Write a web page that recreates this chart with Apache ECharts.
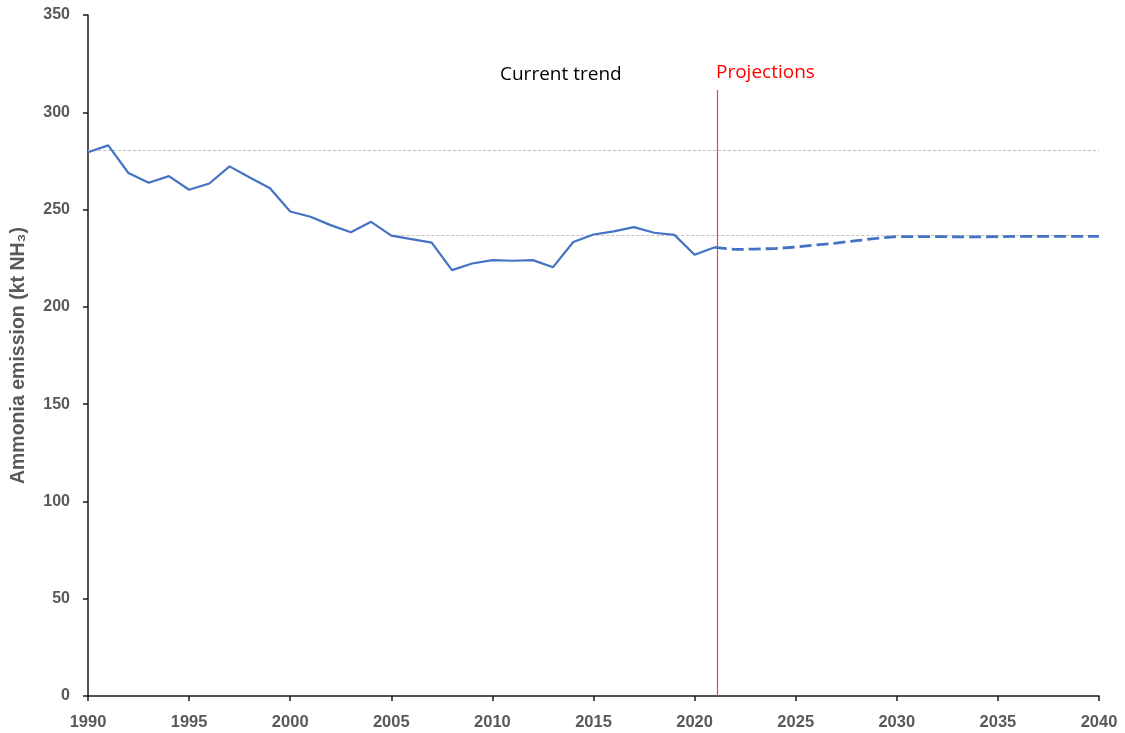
<!DOCTYPE html>
<html><head><meta charset="utf-8">
<script src="https://cdn.jsdelivr.net/npm/echarts@6/dist/echarts.min.js"></script>
<style>html,body{margin:0;padding:0;background:#fff}#c{width:1125px;height:733px}</style>
</head><body><div id="c"></div>
<script>
const histYears = [1990,1991,1992,1993,1994,1995,1996,1997,1998,1999,2000,2001,2002,2003,2004,2005,2006,2007,2008,2009,2010,2011,2012,2013,2014,2015,2016,2017,2018,2019,2020,2021];
const histValues = [279.5,283,268.8,263.8,267.2,260.2,263.4,272.2,266.5,261,249,246.3,242,238.3,243.7,236.6,234.8,233,218.9,222.3,224,223.7,224,220.4,233.3,237.2,238.8,241,238.1,237,226.8,230.6];
const projYears = [2021,2022,2023,2024,2025,2026,2027,2028,2029,2030,2031,2032,2033,2034,2035,2036,2037,2038,2039,2040];
const projValues = [230.6,229.5,229.7,230,230.7,231.8,232.8,234,235.2,236.1,236.1,236.1,236,236,236.1,236.2,236.2,236.2,236.2,236.2];
const xTicks = [1990,1995,2000,2005,2010,2015,2020,2025,2030,2035,2040];
const refUpper = 280.3, refLower = 237, refLowerStart = 2005;
const projectionStart = 2021.12, projectionTop = 311.4;

const labelStyle = {color:'#595959', fontWeight:'bold', fontSize:16, fontFamily:'Liberation Sans'};
const chart = echarts.init(document.getElementById('c'));
chart.setOption({
  animation:false,
  grid:{left:88,right:26,top:15,bottom:37},
  xAxis:{type:'value',min:1990,max:2040,interval:5,
    axisLine:{lineStyle:{color:'#1a1a1a',width:1.5}},
    axisTick:{show:true,length:5,lineStyle:{color:'#1a1a1a',width:1.5}},
    axisLabel:Object.assign({},labelStyle,{fontSize:16.5,margin:18,formatter:v=>xTicks.includes(v)?String(v):''}),
    splitLine:{show:false}},
  yAxis:{type:'value',min:0,max:350,interval:50,
    name:'Ammonia emission (kt NH₃)',nameLocation:'middle',nameGap:59,
    nameTextStyle:{color:'#595959',fontWeight:'bold',fontSize:19.5,fontFamily:'Liberation Sans'},
    axisLine:{show:true,lineStyle:{color:'#1a1a1a',width:1.5}},
    axisTick:{show:true,length:5,lineStyle:{color:'#1a1a1a',width:1.5}},
    axisLabel:Object.assign({margin:18},labelStyle),
    splitLine:{show:false}},
  series:[
    {type:'line',data:histYears.map((y,i)=>[y,histValues[i]]),showSymbol:false,symbol:'none',
     lineStyle:{color:'#4472C4',width:2.2},itemStyle:{color:'#4472C4'},z:5,
     markLine:{silent:true,symbol:'none',label:{show:false},
       data:[
         [{coord:[1990,refUpper],lineStyle:{color:'#c0c0c0',type:[3,2],width:1}},{coord:[2040,refUpper]}],
         [{coord:[refLowerStart,refLower],lineStyle:{color:'#c0c0c0',type:[3,2],width:1}},{coord:[2040,refLower]}]
       ],
       lineStyle:{color:'#c0c0c0',type:[3,2],width:1}}},
    {type:'line',data:projYears.map((y,i)=>[y,projValues[i]]),showSymbol:false,symbol:'none',
     lineStyle:{color:'#4472C4',width:2.8,type:[12,5]},itemStyle:{color:'#4472C4'},z:5,
     markLine:{silent:true,symbol:'none',label:{show:false},
       data:[[{coord:[projectionStart,0],lineStyle:{color:'#ff4040',type:'solid',width:1.2,opacity:1}},{coord:[projectionStart,projectionTop]}]],
       lineStyle:{color:'#ff4040',type:'solid',width:1.2,opacity:1}}}
  ],
  graphic:[
    {type:'text',left:500,top:65,style:{text:'Current trend',fill:'#000',font:'19px "Open Sans"'}},
    {type:'text',left:716,top:63,style:{text:'Projections',fill:'#ff0000',font:'19px "Open Sans"'}}
  ]
});
</script></body></html>
